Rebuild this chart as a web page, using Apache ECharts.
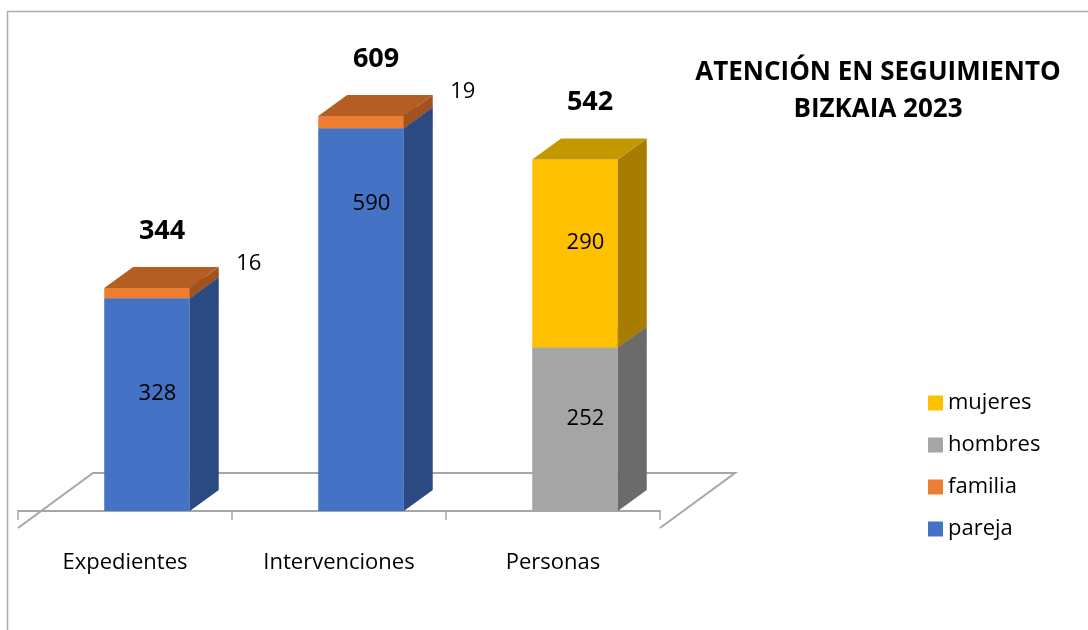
<!DOCTYPE html>
<html>
<head>
<meta charset="utf-8">
<script src="https://cdn.jsdelivr.net/npm/echarts@6/dist/echarts.min.js"></script>
<style>
  html, body { margin: 0; padding: 0; background: #ffffff; }
  #chart { width: 1088px; height: 630px; }
</style>
</head>
<body>
<div id="chart"></div>
<script>
// ---- data ----
const categories = ['Expedientes', 'Intervenciones', 'Personas'];
const pareja  = [328, 590, null];
const familia = [16, 19, null];
const hombres = [null, null, 252];
const mujeres = [null, null, 290];
const legendOrder = ['mujeres', 'hombres', 'familia', 'pareja'];
const titleText = 'ATENCIÓN EN SEGUIMIENTO\nBIZKAIA 2023';

// ---- styling ----
const FONT = '"Open Sans", Lato, sans-serif';
const stackDefs = [
  { name: 'pareja',  values: pareja,  front: '#4472C4', side: '#2C4A82', top: '#37609F', label: 'inside' },
  { name: 'familia', values: familia, front: '#ED7D31', side: '#A0531F', top: '#B45E24', label: 'outside' },
  { name: 'hombres', values: hombres, front: '#A5A5A5', side: '#6B6B6B', top: '#858585', label: 'inside' },
  { name: 'mujeres', values: mujeres, front: '#FFC000', side: '#A67D00', top: '#C49700', label: 'inside' }
];
// extra lift (px) for the inner label of a category
const innerLabelLift = { 'Intervenciones': 105 };

// box geometry relative to the category band
const BAR_W = 0.40;      // front face width / band
const BAR_SHIFT = 0.103; // front face centre offset / band
const DEPTH_X = 0.135;   // depth offset x / band
const DEPTH_Y = 21;      // depth offset y (px)

// stacked ranges [category, low, high, value]
const running = categories.map(() => 0);
const stackData = stackDefs.map(def => {
  const rows = [];
  def.values.forEach((v, i) => {
    if (v == null) return;
    rows.push([i, running[i], running[i] + v, v]);
    running[i] += v;
  });
  return rows;
});
const totals = categories.map((c, i) => [i, running[i]]);

function boxGeom(api, ci, lo, hi) {
  const band = api.size([1, 0])[0];
  const pb = api.coord([ci, lo]);
  const pt = api.coord([ci, hi]);
  const w = band * BAR_W;
  const cx = pb[0] + band * BAR_SHIFT;
  return {
    x0: cx - w / 2, x1: cx + w / 2, yb: pb[1], yt: pt[1],
    dx: band * DEPTH_X, dy: DEPTH_Y, cx: cx
  };
}

function makeBoxRenderer(def) {
  return function (params, api) {
    const ci = api.value(0), lo = api.value(1), hi = api.value(2), val = api.value(3);
    const g = boxGeom(api, ci, lo, hi);
    const children = [
      { type: 'rect', shape: { x: g.x0, y: g.yt, width: g.x1 - g.x0, height: g.yb - g.yt },
        style: { fill: def.front } },
      { type: 'polygon', shape: { points: [[g.x1, g.yb], [g.x1 + g.dx, g.yb - g.dy], [g.x1 + g.dx, g.yt - g.dy], [g.x1, g.yt]] },
        style: { fill: def.side } },
      { type: 'polygon', shape: { points: [[g.x0, g.yt], [g.x0 + g.dx, g.yt - g.dy], [g.x1 + g.dx, g.yt - g.dy], [g.x1, g.yt]] },
        style: { fill: def.top } }
    ];
    if (def.label === 'inside') {
      const lift = innerLabelLift[categories[ci]] || 0;
      children.push({ type: 'text', x: g.cx + g.dx / 2 - 4, y: (g.yb + g.yt) / 2 - g.dy / 2 - lift,
        style: { text: String(val), fill: '#000', font: '22px ' + FONT, align: 'center', verticalAlign: 'middle' } });
    } else {
      children.push({ type: 'text', x: g.x1 + g.dx + 30, y: g.yt - 24,
        style: { text: String(val), fill: '#000', font: '22px ' + FONT, align: 'center', verticalAlign: 'middle' } });
    }
    return { type: 'group', children: children };
  };
}

const series = [];

// floor of the 3D plot area (front edge is the x axis line)
series.push({
  type: 'custom', name: 'floor', silent: true, clip: false, z: 1,
  data: [[0]],
  renderItem: function (params, api) {
    const band = api.size([1, 0])[0];
    const a = api.coord([0, 0]);
    const b = api.coord([categories.length - 1, 0]);
    const left = a[0] - band / 2, right = b[0] + band / 2;
    const fy = a[1] + 17, bx = 75, by = 55;
    return {
      type: 'polyline',
      shape: { points: [[left, fy], [left + bx, fy - by], [right + bx, fy - by], [right, fy]] },
      style: { stroke: '#A6A6A6', lineWidth: 2, fill: null }
    };
  }
});

stackDefs.forEach((def, k) => {
  series.push({
    type: 'custom', name: def.name, clip: false, z: 3,
    itemStyle: { color: def.front },
    data: stackData[k],
    encode: { x: 0, y: [1, 2] },
    renderItem: makeBoxRenderer(def)
  });
});

// totals above each bar
series.push({
  type: 'custom', name: 'total', silent: true, clip: false, z: 4,
  data: totals,
  encode: { x: 0, y: 1 },
  renderItem: function (params, api) {
    const ci = api.value(0), tot = api.value(1);
    const g = boxGeom(api, ci, 0, tot);
    return {
      type: 'text', x: g.cx + 15, y: g.yt - 57,
      style: { text: String(tot), fill: '#000', font: 'bold 27px ' + FONT, align: 'center', verticalAlign: 'middle' }
    };
  }
});

const chart = echarts.init(document.getElementById('chart'), null, { renderer: 'canvas' });
chart.setOption({
  animation: false,
  backgroundColor: '#ffffff',
  title: {
    text: titleText,
    left: 878, top: 54, textAlign: 'center', padding: 0,
    textStyle: { fontFamily: FONT, fontWeight: 'bold', fontSize: 26, lineHeight: 37, color: '#000' }
  },
  legend: {
    orient: 'vertical', left: 928, top: 392, padding: 0,
    data: legendOrder, icon: 'rect', itemWidth: 15, itemHeight: 15, itemGap: 20,
    textStyle: { fontFamily: FONT, fontSize: 22, lineHeight: 22, color: '#000', padding: [0, 0, 0, 0] }
  },
  graphic: [{
    type: 'rect', silent: true, z: -1,
    shape: { x: 7.5, y: 11.5, width: 1300, height: 900 },
    style: { fill: null, stroke: '#ABABAB', lineWidth: 1.5 }
  }],
  grid: { left: 18, right: 428, top: 57, bottom: 119 },
  xAxis: {
    type: 'category', data: categories, offset: 17,
    axisLine: { show: true, lineStyle: { color: '#A6A6A6', width: 2 } },
    axisTick: { show: true, length: 9, lineStyle: { color: '#A6A6A6', width: 1.5 } },
    axisLabel: { fontFamily: FONT, fontSize: 22, color: '#000', margin: 24 },
    splitLine: { show: false }
  },
  yAxis: { type: 'value', min: 0, max: 700, show: false },
  series: series
});
</script>
</body>
</html>
